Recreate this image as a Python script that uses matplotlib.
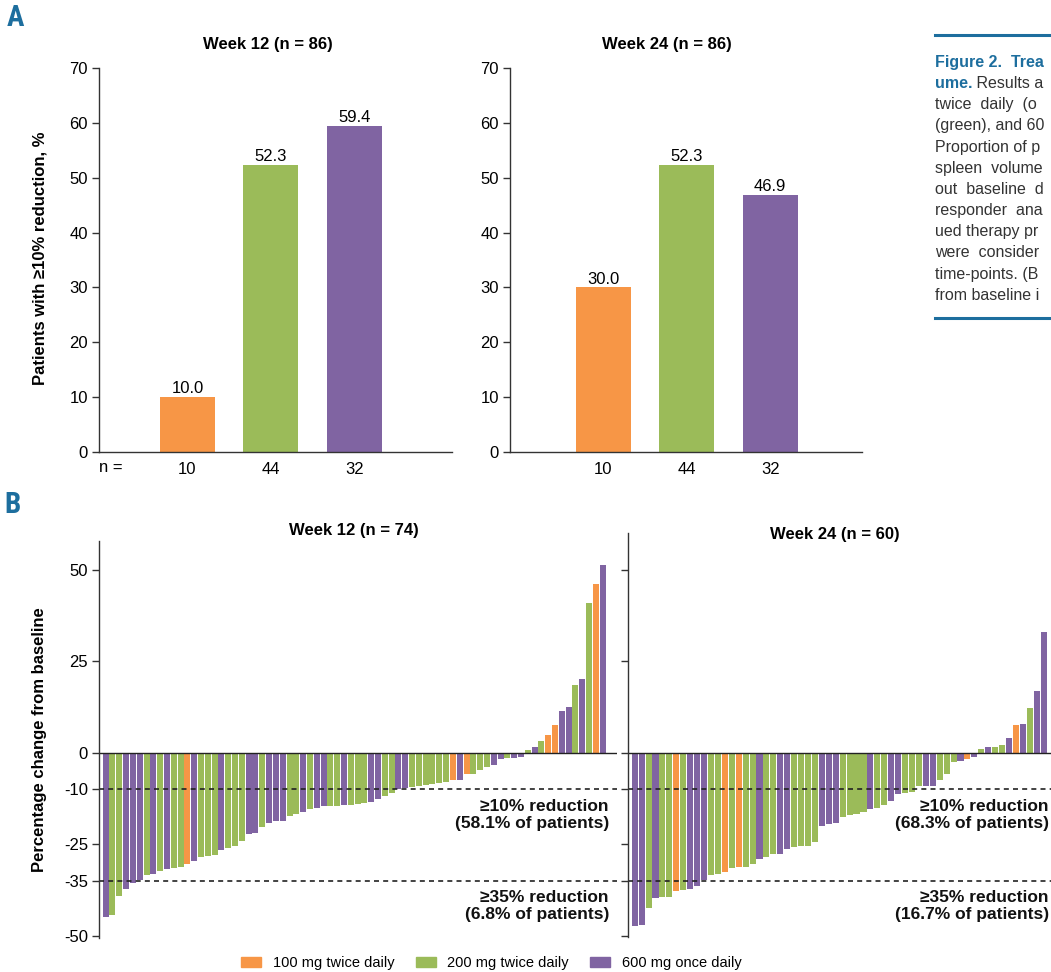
import matplotlib
matplotlib.use("Agg")
import matplotlib.pyplot as plt
from matplotlib import font_manager
from matplotlib.patches import Patch

W, H = 1051, 972

# doses and colours
dose_keys = [100, 200, 600]
dose_names = ["100 mg twice daily", "200 mg twice daily", "600 mg once daily"]
dose_colors = {100: "#F79646", 200: "#9BBB59", 600: "#8064A2"}

# panel A: % patients with >=10% reduction
resp_w12 = [10.0, 52.3, 59.4]
resp_w24 = [30.0, 52.3, 46.9]
resp_n = ["10", "44", "32"]

# panel B: waterfall, week 12
wf12_change = [
    -44.8, -44.4, -39.1, -37.3, -35.7, -34.8, -33.4, -33.0, -32.3, -31.8,
    -31.6, -31.1, -30.5, -29.6, -28.6, -28.2, -27.9, -26.6, -25.9, -25.4,
    -24.1, -22.2, -21.9, -20.4, -19.3, -18.7, -18.6, -17.2, -16.6, -16.3,
    -15.4, -15.2, -14.6, -14.5, -14.5, -14.4, -14.3, -14.1, -13.7, -13.4,
    -12.7, -11.7, -11.1, -9.9, -9.6, -9.3, -9.0, -8.8, -8.6, -8.2,
    -7.9, -7.4, -7.3, -5.9, -5.8, -4.7, -4.0, -3.2, -1.8, -1.5,
    -1.3, -1.2, 0.9, 1.5, 3.1, 4.8, 7.6, 11.4, 12.6, 18.6,
    20.3, 41.1, 46.1, 51.3,
]
wf12_dose = [
    600, 200, 200, 600, 600, 600, 200, 600, 200, 600,
    200, 200, 100, 600, 200, 200, 200, 600, 200, 200,
    200, 600, 600, 200, 600, 600, 600, 200, 200, 600,
    200, 600, 600, 200, 200, 600, 200, 200, 200, 600,
    600, 200, 200, 600, 600, 200, 200, 200, 200, 200,
    200, 100, 600, 100, 200, 200, 200, 600, 600, 200,
    600, 600, 200, 600, 200, 100, 100, 600, 600, 200,
    600, 200, 100, 600,
]

# panel B: waterfall, week 24
wf24_change = [
    -47.3, -47.2, -42.5, -39.6, -39.4, -39.3, -37.7, -37.5, -37.2, -36.3,
    -34.8, -33.4, -33.2, -32.6, -31.6, -31.2, -31.1, -30.4, -29.1, -28.5,
    -27.8, -27.6, -26.2, -25.8, -25.6, -25.5, -24.4, -20.1, -19.6, -19.2,
    -17.5, -16.9, -16.8, -16.3, -15.4, -15.2, -14.3, -13.2, -11.4, -11.1,
    -10.8, -9.1, -9.1, -9.0, -7.5, -5.9, -2.6, -2.2, -1.8, -1.1,
    0.9, 1.5, 1.6, 2.0, 4.1, 7.6, 7.9, 12.3, 16.8, 33.0,
]
wf24_dose = [
    600, 600, 200, 600, 200, 200, 100, 200, 600, 600,
    600, 200, 200, 100, 200, 100, 200, 200, 600, 200,
    200, 600, 600, 200, 200, 200, 200, 600, 600, 600,
    200, 200, 200, 200, 600, 200, 200, 600, 600, 200,
    200, 200, 600, 600, 200, 200, 200, 600, 100, 600,
    200, 600, 200, 200, 600, 100, 600, 200, 600, 600,
]

wf_ticks = [50, 25, 0, -10, -25, -35, -50]

# caption as far as it is visible (the reference is cut at the right edge)
caption_lines = [
    "Figure 2.  Trea", "ume.", "twice  daily  (o", "(green), and 60",
    "Proportion of p", "spleen  volume", "out  baseline  d", "responder  ana",
    "ued therapy pr", "were  consider", "time-points. (B", "from baseline i",
]

BLUE = "#1D6E9E"
INK = "#333333"


def pick_font(names, fallback):
    have = {f.name for f in font_manager.fontManager.ttflist}
    for n in names:
        if n in have:
            return n
    return fallback


def px_rect(x0, y0, x1, y1):
    return [x0 / W, 1 - y1 / H, (x1 - x0) / W, (y1 - y0) / H]


plt.rcParams["font.family"] = ["Liberation Sans", "DejaVu Sans"]
plt.rcParams["axes.unicode_minus"] = False

fig = plt.figure(figsize=(W / 100, H / 100), dpi=100)


def style_axis(ax):
    for s in ["top", "right"]:
        ax.spines[s].set_visible(False)
    for s in ["left", "bottom"]:
        ax.spines[s].set_color(INK)
        ax.spines[s].set_linewidth(1.0)
    ax.tick_params(axis="y", length=5, width=1.0, color=INK, pad=3, labelsize=12)


# ---- panel A ----
def bar_panel(rect, xlim, values):
    ax = fig.add_axes(rect)
    xs = list(range(len(values)))
    ax.bar(xs, values, width=0.66, color=[dose_colors[k] for k in dose_keys])
    for x, v in zip(xs, values):
        ax.annotate(f"{v:.1f}", (x, v), xytext=(0, 0.5), textcoords="offset points",
                    ha="center", va="bottom", fontsize=12)
    ax.set_ylim(0, 70)
    ax.set_xlim(*xlim)
    ax.set_yticks(range(0, 71, 10))
    ax.set_xticks(xs)
    ax.set_xticklabels(resp_n)
    style_axis(ax)
    ax.tick_params(axis="x", length=0, pad=7, labelsize=12)
    return ax


axA1 = bar_panel(px_rect(99, 68, 452, 452), (-1.06, 3.17), resp_w12)
axA2 = bar_panel(px_rect(510, 68, 862, 452), (-1.12, 3.10), resp_w24)

fig.text(268 / W, 1 - 45 / H, "Week 12 (n = 86)", ha="center", va="center",
         fontsize=12, fontweight="bold")
fig.text(667 / W, 1 - 45 / H, "Week 24 (n = 86)", ha="center", va="center",
         fontsize=12, fontweight="bold")
fig.text(99 / W, 1 - 467 / H, "n =", ha="left", va="center", fontsize=12)
fig.text(40 / W, 1 - 258 / H, "Patients with \u226510% reduction, %", rotation=90,
         ha="center", va="center", fontsize=12, fontweight="bold")


# ---- panel B ----
def waterfall(rect, xlim, ylim, change, dose, show_labels):
    ax = fig.add_axes(rect)
    xs = list(range(len(change)))
    ax.bar(xs, change, width=0.88, color=[dose_colors[d] for d in dose], linewidth=0)
    ax.axhline(0, color="#222222", lw=1.0)
    for y in (-10, -35):
        ax.axhline(y, color="#222222", lw=1.2, ls=(0, (3, 2.5)))
    ax.set_xlim(*xlim)
    ax.set_ylim(*ylim)
    ax.set_xticks([])
    ax.set_yticks(wf_ticks)
    ax.set_yticklabels([str(t) for t in wf_ticks] if show_labels else [])
    style_axis(ax)
    ax.spines["bottom"].set_visible(False)
    return ax


axB1 = waterfall(px_rect(99, 540.7, 617, 937.5), (-0.98, 75.1), (-50.5, 58),
                 wf12_change, wf12_dose, True)
axB2 = waterfall(px_rect(628, 533.1, 1070, 937.5), (-0.97, 62.8), (-50.5, 60),
                 wf24_change, wf24_dose, False)

fig.text(354 / W, 1 - 530 / H, "Week 12 (n = 74)", ha="center", va="center",
         fontsize=12, fontweight="bold")
fig.text(835 / W, 1 - 534 / H, "Week 24 (n = 60)", ha="center", va="center",
         fontsize=12, fontweight="bold")
fig.text(40 / W, 1 - 740 / H, "Percentage change from baseline", rotation=90,
         ha="center", va="center", fontsize=12, fontweight="bold")

notes = [
    (609, "\u226510% reduction", "(58.1% of patients)", "\u226535% reduction", "(6.8% of patients)"),
    (1049, "\u226510% reduction", "(68.3% of patients)", "\u226535% reduction", "(16.7% of patients)"),
]
for x, a, b, c, d in notes:
    for y, s in zip((810.7, 828.0, 901.7, 919.0), (a, b, c, d)):
        fig.text(x / W, 1 - y / H, s, ha="right", va="baseline", fontsize=12.5,
                 fontweight="bold", color="#111111")

# legend
handles = [Patch(color=dose_colors[k], label=n) for k, n in zip(dose_keys, dose_names)]
fig.legend(handles=handles, loc="center", bbox_to_anchor=(491.5 / W, 1 - 963 / H),
           ncol=3, frameon=False, fontsize=10.5, handlelength=1.37, handleheight=0.68,
           handletextpad=0.8, columnspacing=1.45, borderpad=0, borderaxespad=0)

# panel letters
letter_font = pick_font(["Liberation Sans Narrow", "Roboto Condensed"], "Liberation Sans")
fig.text(15 / W, 1 - 18 / H, "A", ha="center", va="center", fontsize=21,
         fontweight="bold", color=BLUE, family=letter_font)
fig.text(13 / W, 1 - 505 / H, "B", ha="center", va="center", fontsize=21,
         fontweight="bold", color=BLUE, family=letter_font)

# caption block at top right
fig.add_artist(plt.Line2D([935 / W, 1.0], [1 - 35 / H, 1 - 35 / H], color=BLUE, lw=2.2))
fig.add_artist(plt.Line2D([935 / W, 1.0], [1 - 318 / H, 1 - 318 / H], color=BLUE, lw=2.2))
for i, line in enumerate(caption_lines):
    yb = 1 - (62 + i * 21.15 + 5) / H
    if i < 2:
        t = fig.text(935 / W, yb, line, ha="left", va="baseline", fontsize=11.5,
                     fontweight="bold", color=BLUE)
        if i == 1:
            fig.canvas.draw()
            bb = t.get_window_extent()
            fig.text(bb.x1 / W, yb, " Results a", ha="left", va="baseline",
                     fontsize=11.5, color=INK)
    else:
        fig.text(935 / W, yb, line, ha="left", va="baseline", fontsize=11.5, color=INK)

fig.savefig("out.png", dpi=100)
